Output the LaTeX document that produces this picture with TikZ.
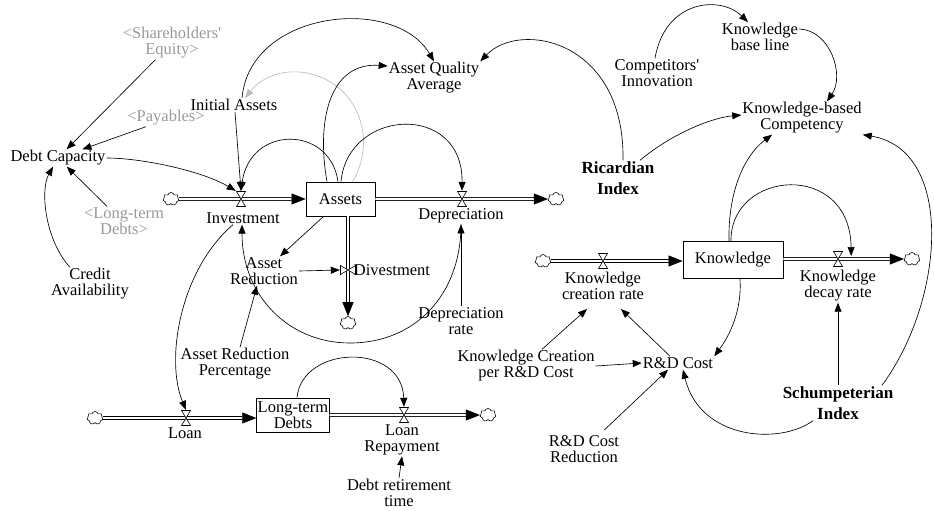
\documentclass[tikz,border=0pt]{standalone}
\usepackage{fontspec}
\setmainfont{Liberation Serif}
\usetikzlibrary{arrows.meta,shapes.symbols}
\definecolor{gvar}{HTML}{999999}
\definecolor{garr}{HTML}{BDBDBD}
\begin{document}
\begin{tikzpicture}[x=1pt,y=-1pt,
  var/.style={align=center,inner sep=1pt,font=\fontsize{16.5}{16}\selectfont,text=black},
  shadowvar/.style={var,text=gvar},
  bigvar/.style={align=center,inner sep=1pt,font=\fontsize{17}{21}\selectfont\bfseries},
  stock/.style={draw,line width=0.9pt,inner sep=1pt,align=center,font=\fontsize{16.5}{16}\selectfont},
  conn/.style={line width=0.65pt,-{Triangle[length=9pt,width=7pt]}},
  gconn/.style={conn,draw=garr},
  flow/.style={draw=black,double=white,line width=0.6pt,double distance=2.4pt,-{Triangle[length=14pt,width=11pt]}},
  cl/.style={cloud,draw,cloud puffs=7,aspect=1.2,minimum width=16pt,minimum height=13pt,inner sep=0pt,line width=0.6pt,fill=white},
  vn/.style={minimum width=10pt,minimum height=16pt,inner sep=0pt},
  vnh/.style={minimum width=16pt,minimum height=10pt,inner sep=0pt},
  pics/hg/.style={code={\draw[fill=white,line width=0.6pt] (-4.5,-7.5)--(4.5,-7.5)--(-4.5,7.5)--(4.5,7.5)--cycle;}}
  ]
\useasboundingbox (0,0) rectangle (934,511);
\fill[white] (0,0) rectangle (934,511);

% ---------- nodes, left part ----------
\node[var] (dc) at (58,158) {Debt Capacity};
\node[shadowvar] (se) at (172,43) {\textless Shareholders\textquotesingle\\Equity\textgreater};
\node[shadowvar] (pay) at (166,118) {\textless Payables\textgreater};
\node[var] (ia) at (234,105) {Initial Assets};
\node[shadowvar] (ltdg) at (124,221) {\textless Long-term\\Debts\textgreater};
\node[var] (ca) at (90,284) {Credit\\Availability};
\node[stock,minimum width=69pt,minimum height=34pt] (assets) at (340.5,199) {Assets};
\node[vn] (inv) at (241,199) {};
\node[var] (invl) at (243,218) {Investment};
\node[vn] (dep) at (462,199) {};
\node[var] (depl) at (461,216) {Depreciation};
\node[vnh] (div) at (348,270) {};
\node[var] (divl) at (392,270) {Divestment};
\node[var] (ar) at (264,271) {Asset\\Reduction};
\node[var] (arp) at (235,364) {Asset Reduction\\Percentage};
\node[var] (drate) at (461,321) {Depreciation\\rate};
\node[var] (aqa) at (434,78) {Asset Quality\\Average};
\node[vn] (loan) at (186,418) {};
\node[var] (loanl) at (185,433) {Loan};
\node[stock,minimum width=70pt,minimum height=34pt] (ltd) at (293,415) {Long-term\\Debts};
\node[vn] (lrv) at (404,415) {};
\node[var] (lrl) at (402,440) {Loan\\Repayment};
\node[var] (drt) at (399,493) {Debt retirement\\time};

% ---------- nodes, right part ----------
\node[bigvar] (ri) at (618,178) {Ricardian\\Index};
\node[var] (ci) at (657,73) {Competitors\textquotesingle\\Innovation};
\node[var] (kbl) at (760,37) {Knowledge\\base line};
\node[var] (kbc) at (802,118) {Knowledge-based\\Competency};
\node[stock,minimum width=100pt,minimum height=37pt] (know) at (733,260) {Knowledge};
\node[vn] (kcr) at (603,261) {};
\node[var] (kcrl) at (603,286) {Knowledge\\creation rate};
\node[vn] (kdr) at (838,259) {};
\node[var] (kdrl) at (838,286) {Knowledge\\decay rate};
\node[var] (kcp) at (526,366) {Knowledge Creation\\per R\&D Cost};
\node[var] (rdc) at (678,363) {R\&D Cost};
\node[var] (rdr) at (584,449) {R\&D Cost\\Reduction};
\node[bigvar] (si) at (838,403) {Schumpeterian\\Index};

% ---------- clouds ----------
\node[cl] (cl1) at (171,199) {};
\node[cl] (cl2) at (556,199) {};
\node[cl] (cl3) at (348,323) {};
\node[cl] (cl4) at (95,418) {};
\node[cl] (cl5) at (488,415) {};
\node[cl] (cl6) at (543,261) {};
\node[cl] (cl7) at (912,259) {};

% ---------- flows ----------
\draw[flow] (cl1.east) -- (assets.west);
\draw[flow] (assets.east) -- (cl2.west);
\draw[flow] ([xshift=7.5pt]assets.south) -- (cl3.north);
\draw[flow] (cl4.east) -- (cl4.east -| ltd.west);
\draw[flow] (ltd.east) -- (cl5.west);
\draw[flow] (cl6.east) -- (cl6.east -| know.west);
\draw[flow] (know.east |- cl7) -- (cl7.west);
\foreach \v in {inv,dep,loan,lrv,kcr,kdr} \pic at (\v) {hg};
\pic[rotate=90] at (div) {hg};

% ---------- connectors, left part ----------
\draw[conn] (se) -- (dc);
\draw[conn] ([xshift=-20pt]pay.south) -- (dc);
\draw[conn] ([xshift=-17pt]ltdg.north) -- (dc);
\draw[conn] ([xshift=-20pt]ca.north) .. controls (45,240) and (40,190) .. ([xshift=-5pt]dc.south);
\draw[conn] (dc.east) .. controls (140,158) and (200,170) .. (inv.north west);
\draw[conn] ([xshift=1pt]ia.south) -- (inv.north);
\draw[conn] ([xshift=-2.5pt]assets.north) .. controls (330,125) and (250,125) .. (inv.north);
\draw[gconn] ([xshift=12pt]assets.north) .. controls (371,151) and (366,111) .. (338.7,87.9)
   .. controls (311,65) and (270,67) .. ([xshift=11pt]ia.north);
\draw[conn] ([xshift=8pt]ia.north) .. controls (250,10) and (395,-5) .. (aqa.north);
\draw[conn] ([xshift=-13.5pt]assets.north) .. controls (316,120) and (330,62) .. ([shift={(0,-12)}]aqa.west);
\draw[conn] ([xshift=0.5pt]assets.north) .. controls (348,108) and (463,102) .. (dep.north);
\draw[conn] ([xshift=-17pt]assets.south) -- (ar);
\draw[conn] (ar.east) -- (div.west);
\draw[conn] ([xshift=5pt]arp.north) -- ([xshift=-7pt]ar.south);
\draw[conn] (depl.south) .. controls (461,295) and (415,343) .. (350,343)
   .. controls (288,343) and (242,295) .. ([xshift=-1pt]invl.south);
\draw[conn] (drate.north) -- (depl.south);
\draw[conn] ([xshift=-10pt]invl.south) .. controls (180,270) and (165,360) .. (loan.north);
\draw[conn] ([xshift=4pt]ltd.north) .. controls (302,345) and (402,342) .. (lrv.north);
\draw[conn] (drt.north) -- (lrl.south);

% ---------- connectors, right part ----------
\draw[conn] ([xshift=5pt]ri.north) .. controls (625,40) and (520,20) .. (aqa.north east);
\draw[conn] ([xshift=22pt]ri.north) .. controls (670,135) and (710,118) .. ([shift={(0,-3)}]kbc.west);
\draw[conn] ([xshift=-2pt]ci.north) .. controls (665,0) and (720,-5) .. ([xshift=-12pt]kbl.north);
\draw[conn] ([shift={(0,-8)}]kbl.east) .. controls (830,30) and (845,75) .. ([xshift=25pt]kbc.north);
\draw[conn] ([xshift=-4pt]know.north) .. controls (728,190) and (745,155) .. ([xshift=-30pt]kbc.south);
\draw[conn] ([xshift=-2pt]know.north) .. controls (730,170) and (850,160) .. ([shift={(8,-3)}]kdr.east);
\draw[conn] ([xshift=44pt]si.north) .. controls (945,300) and (955,150) .. (kbc.south east);
\draw[conn] (si.north) -- (kdrl.south);
\draw[conn] ([xshift=-25pt]si.south) .. controls (780,445) and (700,440) .. ([xshift=5pt]rdc.south);
\draw[conn] ([xshift=7pt]know.south) .. controls (742,310) and (730,335) .. (rdc.north east);
\draw[conn] ([xshift=-8pt]rdc.north) -- ([shift={(18,8)}]kcrl.south);
\draw[conn] ([xshift=16pt]kcp.north) -- ([shift={(-16,8)}]kcrl.south);
\draw[conn] (kcp.east) -- (rdc.west);
\draw[conn] ([shift={(20,-4)}]rdr.north) -- ([xshift=-10pt]rdc.south);
\end{tikzpicture}
\end{document}
